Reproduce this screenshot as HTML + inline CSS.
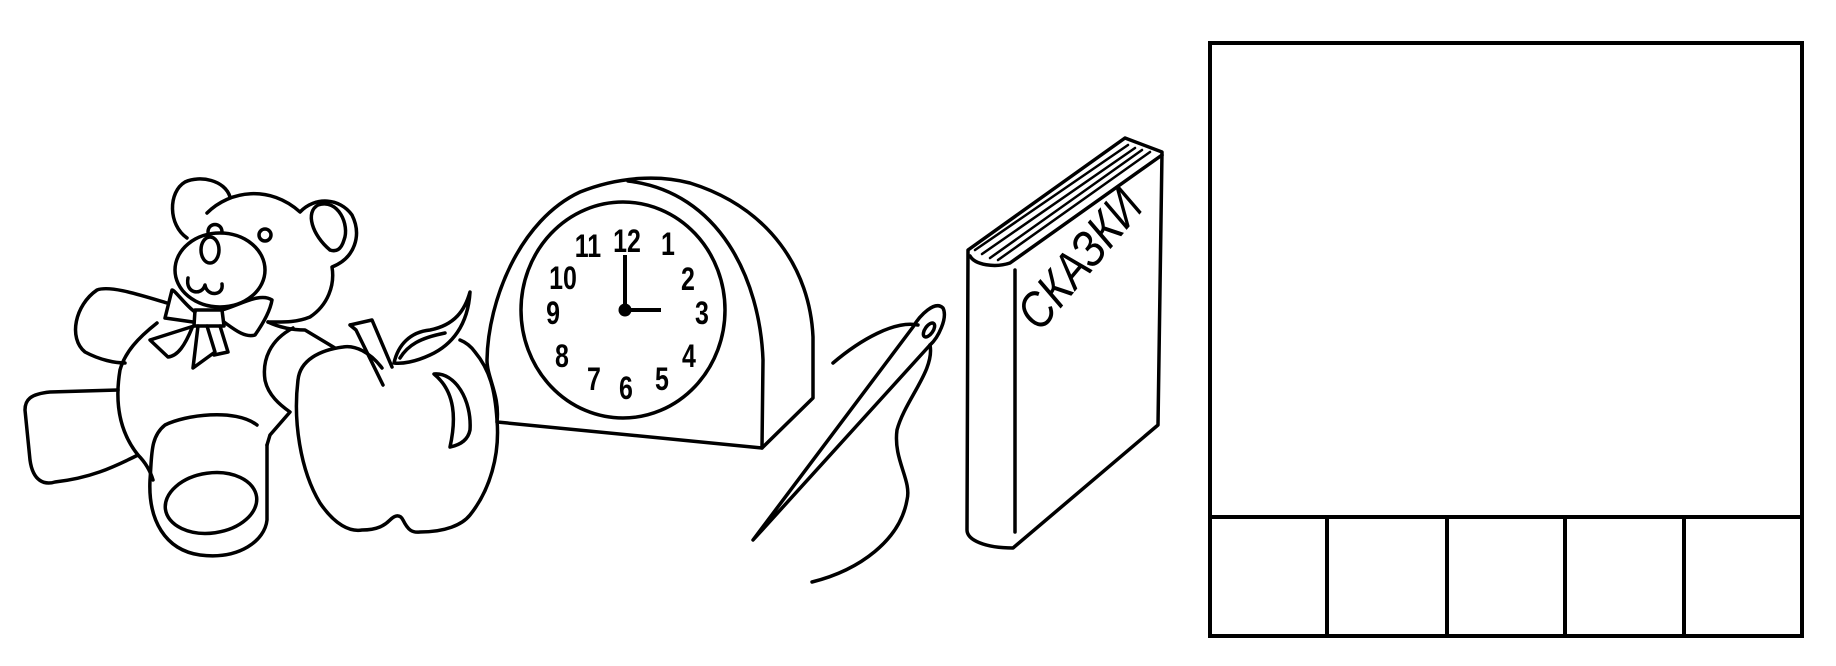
<!DOCTYPE html>
<html><head><meta charset="utf-8"><style>
html,body{margin:0;padding:0;background:#fff;}
svg{display:block}
</style></head><body>
<svg width="1836" height="666" viewBox="0 0 1836 666" xmlns="http://www.w3.org/2000/svg">
<g fill="none" stroke="#000" stroke-width="3.5" stroke-linejoin="round" stroke-linecap="round">
<!-- Teddy -->
<path d="M230,197 C225,180 200,175 185,182 C168,192 168,225 187,238"/>
<path d="M207,213 C230,190 270,185 300,212 C315,196 340,198 352,215 C362,235 355,258 332,267 C335,285 328,305 310,317 C295,323 282,322 268,322"/>
<path d="M330,250 C312,235 305,212 318,205 C338,198 350,225 344,240 C341,250 336,252 330,250"/>
<ellipse cx="220" cy="270" rx="45" ry="37"/>
<ellipse cx="210" cy="250" rx="9" ry="13"/>
<circle cx="265" cy="235" r="6"/>
<path d="M208,232 C208,222 222,222 222,232"/>
<path d="M188,278 C185,294 202,296 205,285 C207,297 224,296 222,284"/>
<!-- bow -->
<path d="M195,310 L222,310 L224,326 L194,326 Z"/>
<path d="M195,312 C185,305 175,290 172,290 L165,318 L193,322"/>
<path d="M194,326 L150,340 L168,357 C178,356 185,345 192,328"/>
<path d="M222,310 C240,305 260,292 272,300 C270,312 262,325 255,335 C245,338 235,330 224,322"/>
<path d="M198,326 L193,368 L215,352 L207,326"/>
<path d="M220,326 L228,352 L214,355"/>
<!-- arms / body -->
<path d="M167,303 C140,295 110,285 97,290 C75,305 68,338 85,352 C100,360 115,363 125,363"/>
<path d="M157,323 C138,338 125,352 120,370 C115,400 118,430 138,455 C145,462 150,470 153,480"/>
<path d="M268,322 C285,330 300,330 305,330 L335,348"/>
<path d="M293,328 C270,340 262,360 265,380 C268,395 280,405 290,412 L270,435 L267,445"/>
<path d="M118,390 L50,392 C30,394 25,400 25,410 L30,460 C33,482 45,485 55,482 C90,478 112,468 138,455"/>
<path d="M257,425 C235,408 185,415 165,425 C150,437 152,455 150,480 C148,520 165,550 200,555 C240,560 265,540 267,520 L267,445"/>
<ellipse cx="211" cy="503" rx="46" ry="30" transform="rotate(-8 211 503)"/>
<!-- Apple -->
<path d="M382,368 C370,352 355,345 343,347 C320,350 300,360 298,380 C293,420 300,470 320,503 C335,525 350,532 362,530 C378,530 385,525 390,520 C395,515 400,514 403,520 C408,530 412,533 420,532 C445,532 462,525 470,515 C490,490 500,455 497,420 C495,390 490,370 475,352 C470,345 465,342 460,340"/>
<path d="M350,325 L372,320 L392,367 M350,325 L356,330 L383,385"/>
<path d="M394,363 C398,345 410,332 430,330 C455,325 465,310 470,292 C468,325 452,345 430,355 C415,362 402,364 394,363"/>
<path d="M400,358 C408,345 420,338 445,333"/>
<path d="M434,374 C455,372 472,400 470,430 C468,440 460,445 450,447 C456,420 456,392 434,374 Z"/>
<!-- Clock -->
<path d="M497,422 C500,395 487,378 487,360 C488,300 520,220 580,192 C620,176 660,175 690,183 C770,208 810,270 813,337 L813,398 L762,448 L497,422"/>
<path d="M628,181 C720,192 760,280 763,360 L762,448"/>
<ellipse cx="623" cy="310" rx="102" ry="108"/>
<path d="M625,255 L625,310 L661,310" stroke-width="4" stroke-linecap="butt"/>
<!-- Needle & thread -->
<path d="M753,540 L913,327 C920,315 935,300 943,308 C948,318 938,338 930,345 Z"/>
<ellipse cx="929" cy="330" rx="4" ry="8" transform="rotate(35 929 330)"/>
<path d="M833,363 C860,340 895,320 918,325"/>
<path d="M930,345 C935,370 905,400 897,430 C893,460 912,480 907,500 C900,540 860,570 812,582"/>
<!-- Book -->
<path d="M968,250 L967,530 C967,540 985,548 1013,548 L1158,425 L1162,152 L1125,138 L968,250 Z"/>
<path d="M970,256 C975,265 995,268 1010,263 L1162,155"/>
<path d="M1015,270 L1015,532"/>
<path d="M975,250 L1128,145 M982,254 L1135,148 M990,258 L1142,150 M998,260 L1150,152" stroke-width="2.5"/>
</g>
<g font-family="Liberation Sans, sans-serif" font-size="32" font-weight="bold" text-anchor="middle" fill="#000" transform="scale(0.78 1)">
<text x="803.8" y="252">12</text>
<text x="753.8" y="257">11</text>
<text x="856.4" y="255">1</text>
<text x="882" y="290">2</text>
<text x="721.8" y="289">10</text>
<text x="900" y="324">3</text>
<text x="709" y="324">9</text>
<text x="883.3" y="367">4</text>
<text x="720.5" y="367">8</text>
<text x="848.7" y="390">5</text>
<text x="761.5" y="390">7</text>
<text x="802.5" y="399">6</text>
</g>
<circle cx="625" cy="310" r="6.5" fill="#000"/>
<text x="0" y="0" font-family="Liberation Sans, 'Noto Sans CJK SC', sans-serif" font-size="50" font-style="italic" fill="#000" transform="translate(1040 333) rotate(-50) scale(0.85 1)">СКАЗКИ</text>
<!-- Grid box -->
<g fill="none" stroke="#000" stroke-width="4">
<rect x="1210" y="43" width="592" height="593"/>
<line x1="1210" y1="517" x2="1802" y2="517"/>
<line x1="1327" y1="517" x2="1327" y2="636"/>
<line x1="1447" y1="517" x2="1447" y2="636"/>
<line x1="1565" y1="517" x2="1565" y2="636"/>
<line x1="1684" y1="517" x2="1684" y2="636"/>
</g>
</svg>
</body></html>
